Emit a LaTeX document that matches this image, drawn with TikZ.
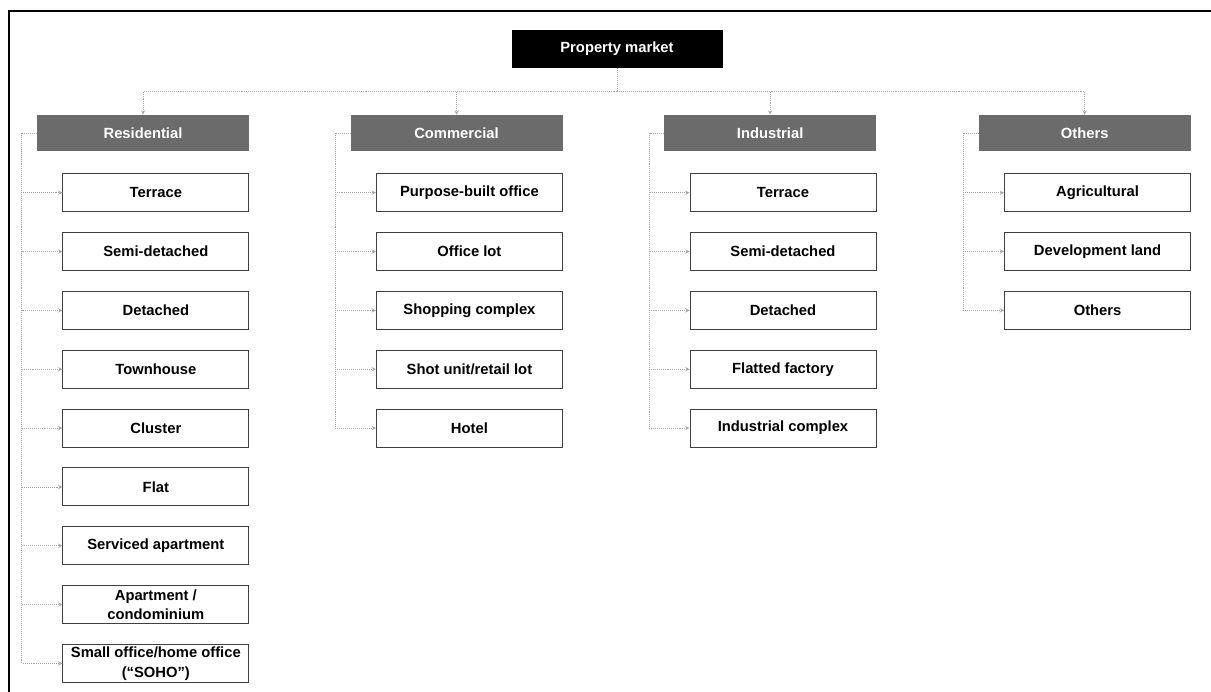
\documentclass[tikz,border=0pt]{standalone}
\usepackage{fontspec}
\setmainfont{Liberation Sans}
\usepackage{tikz}
\usetikzlibrary{arrows,positioning}

\begin{document}
\begin{tikzpicture}[
    node distance=0.5cm,
    every node/.style={font=\fontsize{10.5}{14}\selectfont\bfseries},
    root/.style={rectangle, fill=black, text=white, minimum width=5.275cm, minimum height=0.95cm},
    group/.style={rectangle, fill=black!58, text=white, minimum width=5.3cm, minimum height=0.9cm},
    item/.style={rectangle, draw=black!75, line width=0.6pt, fill=white, align=center, inner xsep=2pt, inner ysep=0.5pt, minimum width=4.65cm, minimum height=0.95cm},
    link/.style={->,>=stealth, gray!70, densely dotted}
]
    \useasboundingbox (0,0) rectangle (30.275,-17.3);
    % frame of the scanned page
    \draw [line width=1pt] (0.225,-17.3) -- (0.225,-0.275) -- (30.275,-0.275);

    \node [root] (market) at (15.425,-1.225) {Property market};

    \node [group] (res) at (3.575,-3.325) {Residential};
    \node [group, right=2.525cm of res] (com) {Commercial};
    \node [group, right=2.525cm of com] (ind) {Industrial};
    \node [group, right=2.55cm of ind] (oth) {Others};

    % residential
    \node [item, below left=0.55cm and 0cm of res.south east] (res1) {Terrace};
    \node [item, below=of res1] (res2) {Semi-detached};
    \node [item, below=of res2] (res3) {Detached};
    \node [item, below=of res3] (res4) {Townhouse};
    \node [item, below=of res4] (res5) {Cluster};
    \node [item, below=of res5] (res6) {Flat};
    \node [item, below=of res6] (res7) {Serviced apartment};
    \node [item, below=of res7] (res8) {Apartment /\\condominium};
    \node [item, below=of res8] (res9) {Small office/home office\\(“SOHO”)};

    % commercial
    \node [item, below left=0.55cm and 0cm of com.south east] (com1) {Purpose-built office};
    \node [item, below=of com1] (com2) {Office lot};
    \node [item, below=of com2] (com3) {Shopping complex};
    \node [item, below=of com3] (com4) {Shot unit/retail lot};
    \node [item, below=of com4] (com5) {Hotel};

    % industrial
    \node [item, below left=0.55cm and 0cm of ind.south east] (ind1) {Terrace};
    \node [item, below=of ind1] (ind2) {Semi-detached};
    \node [item, below=of ind2] (ind3) {Detached};
    \node [item, below=of ind3] (ind4) {Flatted factory};
    \node [item, below=of ind4] (ind5) {Industrial complex};

    % others
    \node [item, below left=0.55cm and 0cm of oth.south east] (oth1) {Agricultural};
    \node [item, below=of oth1] (oth2) {Development land};
    \node [item, below=of oth2] (oth3) {Others};

    % top level
    \coordinate [below=0.575cm of market.south] (bus);
    \draw [link, -] (market.south) -- (bus);
    \draw [link] (bus) -| (res.north);
    \draw [link] (bus) -| (com.north);
    \draw [link] (bus) -| (ind.north);
    \draw [link] (bus) -| (oth.north);

    % side trunks
    \coordinate [left=0.375cm of res.west] (restrunk);
    \coordinate [left=0.375cm of com.west] (comtrunk);
    \coordinate [left=0.375cm of ind.west] (indtrunk);
    \coordinate [left=0.375cm of oth.west] (othtrunk);
    \draw [link, -] (res.west) -- (restrunk);
    \draw [link, -] (com.west) -- (comtrunk);
    \draw [link, -] (ind.west) -- (indtrunk);
    \draw [link, -] (oth.west) -- (othtrunk);

    \draw [link] (restrunk) |- (res1.west);
    \draw [link] (restrunk) |- (res2.west);
    \draw [link] (restrunk) |- (res3.west);
    \draw [link] (restrunk) |- (res4.west);
    \draw [link] (restrunk) |- (res5.west);
    \draw [link] (restrunk) |- (res6.west);
    \draw [link] (restrunk) |- (res7.west);
    \draw [link] (restrunk) |- (res8.west);
    \draw [link] (restrunk) |- (res9.west);

    \draw [link] (comtrunk) |- (com1.west);
    \draw [link] (comtrunk) |- (com2.west);
    \draw [link] (comtrunk) |- (com3.west);
    \draw [link] (comtrunk) |- (com4.west);
    \draw [link] (comtrunk) |- (com5.west);

    \draw [link] (indtrunk) |- (ind1.west);
    \draw [link] (indtrunk) |- (ind2.west);
    \draw [link] (indtrunk) |- (ind3.west);
    \draw [link] (indtrunk) |- (ind4.west);
    \draw [link] (indtrunk) |- (ind5.west);

    \draw [link] (othtrunk) |- (oth1.west);
    \draw [link] (othtrunk) |- (oth2.west);
    \draw [link] (othtrunk) |- (oth3.west);
\end{tikzpicture}
\end{document}
